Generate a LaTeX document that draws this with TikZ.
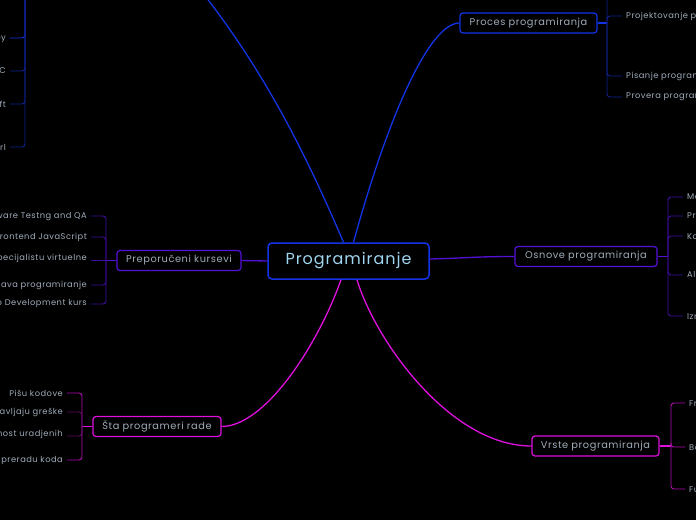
\documentclass[tikz,border=0pt]{standalone}
\usepackage{fontspec}
\setmainfont{Poppins}[LetterSpace=6]
\usepackage{xcolor}
\usetikzlibrary{calc}
\definecolor{bluelink}{RGB}{18,52,230}
\definecolor{bluesub}{RGB}{16,34,150}
\definecolor{purplelink}{RGB}{84,16,214}
\definecolor{purplesub}{RGB}{62,12,160}
\definecolor{pinklink}{RGB}{222,16,222}
\definecolor{pinksub}{RGB}{176,10,176}
\definecolor{pinkdark}{RGB}{96,10,96}
\definecolor{labeltext}{RGB}{160,172,186}
\definecolor{roottext}{RGB}{160,214,240}
\tikzset{
  topic/.style={draw,rounded corners=3pt,line width=1.2pt,minimum height=20pt,inner xsep=3pt,font=\fontsize{9.8}{11}\selectfont,text=labeltext},
  root/.style={draw=bluelink,rounded corners=4pt,line width=1.5pt,minimum width=161pt,minimum height=36pt,font=\fontsize{16}{18}\selectfont,text=roottext},
  leaf/.style={inner xsep=4pt,inner ysep=1pt,font=\fontsize{8.3}{10}\selectfont,text=labeltext},
  link/.style={line width=1.3pt},
  sub/.style={line width=0.9pt,rounded corners=3pt}
}

\begin{document}
\begin{tikzpicture}[x=1pt,y=-1pt]
	\useasboundingbox (0,0) rectangle (696,520);
	\fill[black] (0,0) rectangle (696,520);
	\node[root] (pr) at (348.5,261) {Programiranje};
	\node[topic,draw=bluelink,minimum width=137pt] (pp) at (528.5,23) {Proces programiranja};
	\node[topic,draw=purplelink,minimum width=124pt] (pk) at (179,260.5) {Preporučeni kursevi};
	\node[topic,draw=purplelink,minimum width=142pt] (os) at (586,256.5) {Osnove programiranja};
	\node[topic,draw=pinklink,minimum width=128pt] (sp) at (157,426.5) {Šta programeri rade};
	\node[topic,draw=pinklink,minimum width=127pt] (vr) at (595.5,446) {Vrste programiranja};
	\coordinate (jz) at (180,-35);
	\draw[link,bluelink] ([xshift=-5pt]pr.north) .. controls (304,150) and (259,58) .. (jz);
	\draw[link,bluelink] ([xshift=5pt]pr.north) .. controls (389,113) and (430,23) .. (pp.west);
	\draw[link,purplelink] (pr.west) -- (pk.east);
	\draw[link,purplelink] ([yshift=2pt]pr.east) .. controls (470,258) and (475,256.5) .. (os.west);
	\draw[link,pinklink] ([xshift=-7.5pt]pr.south) .. controls (318,345) and (265,426.5) .. (sp.east);
	\draw[link,pinklink] ([xshift=8.5pt]pr.south) .. controls (375,340) and (450,446) .. (vr.west);

	\coordinate (jzb) at (25,-20);
	\node[leaf,anchor=east] (jz1) at (10,38) {Ruby};
	\node[leaf,anchor=east] (jz2) at (10,71) {C};
	\node[leaf,anchor=east] (jz3) at (10,104) {Swift};
	\node[leaf,anchor=east] (jz4) at (10,147) {Perl};
	\draw[sub,bluelink] (jzb) |- (jz1.east);
	\foreach \n in {jz2,jz3,jz4}
		\draw[sub,bluesub] (jzb) |- (\n.east);

	\coordinate (ppb) at (607,23);
	\coordinate (pp0) at (622,-12);
	\node[leaf,anchor=west] (pp1) at (622,16) {Projektovanje programa};
	\node[leaf,anchor=west] (pp2) at (622,76) {Pisanje programa};
	\node[leaf,anchor=west] (pp3) at (622,97) {Provera programa};
	\draw[link,bluelink] (pp.east) -- (ppb);
	\draw[sub,bluesub] (ppb) |- (pp0);
	\foreach \n in {pp1,pp2,pp3}
		\draw[sub,bluesub] (ppb) |- (\n.west);

	\coordinate (pkb) at (106,260.5);
	\node[leaf,anchor=east] (pk1) at (91,216) {Software Testng and QA};
	\node[leaf,anchor=east] (pk2) at (91,237) {Frontend  JavaScript};
	\node[leaf,anchor=base east] (pk3) at (91,260.5) {Kurs za specijalistu virtuelne};
	\node[leaf,anchor=east] (pk4) at (91,285) {Java programiranje};
	\node[leaf,anchor=east] (pk5) at (91,304) {Web Development kurs};
	\draw[link,purplelink] (pk.west) -- (pkb);
	\draw[sub,purplesub] (pkb) -- (pk3.base east);
	\foreach \n in {pk1,pk2,pk4,pk5}
		\draw[sub,purplesub] (pkb) |- (\n.east);

	\coordinate (osb) at (668,256.5);
	\node[leaf,anchor=west] (os1) at (683,197) {Memorija};
	\node[leaf,anchor=west] (os2) at (683,216) {Promenljive};
	\node[leaf,anchor=west] (os3) at (683,236) {Kontrolne strukture};
	\node[leaf,anchor=west] (os4) at (683,275) {Algoritmi};
	\node[leaf,anchor=west] (os5) at (683,316) {Izrazi};
	\draw[link,purplelink] (os.east) -- (osb);
	\foreach \n in {os1,os2,os3,os4,os5}
		\draw[sub,purplesub] (osb) |- (\n.west);

	\coordinate (spb) at (82,426.5);
	\node[leaf,anchor=east] (sp1) at (67,393) {Pišu kodove};
	\node[leaf,anchor=east] (sp2) at (67,412) {Ispravljaju greške};
	\node[leaf,anchor=base east] (sp3) at (67,436) {Proveravaju ispravnost uradjenih};
	\node[leaf,anchor=east] (sp4) at (67,460) {Vrše preradu koda};
	\draw[link,pinklink] (sp.west) -- (spb);
	\draw[sub,pinksub] (spb) |- (sp1.east);
	\draw[sub,pinkdark] (spb) |- (sp2.east);
	\draw[sub,pinkdark] (spb) |- (sp3.base east);
	\draw[sub,pinksub] (spb) |- (sp4.east);

	\coordinate (vrb) at (671,446);
	\node[leaf,anchor=west] (vr1) at (685,403) {Frontend};
	\node[leaf,anchor=west] (vr2) at (685,447) {Backend};
	\node[leaf,anchor=west] (vr3) at (685,489) {Fullstack};
	\draw[link,pinklink] (vr.east) -- (vrb);
	\foreach \n in {vr1,vr2,vr3}
		\draw[sub,pinksub] (vrb) |- (\n.west);
\end{tikzpicture}
\end{document}
